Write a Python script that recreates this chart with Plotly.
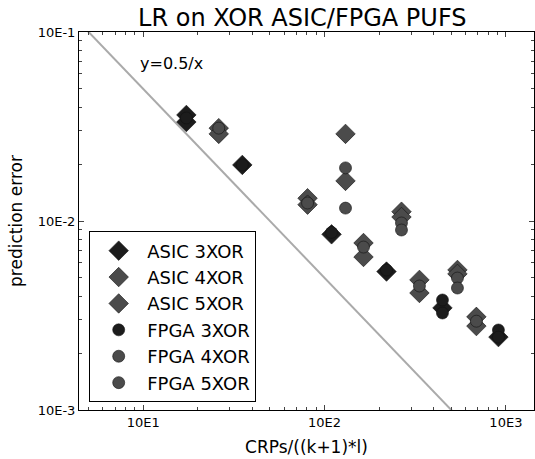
"""LR on XOR ASIC/FPGA PUFs: prediction error vs normalised CRP count."""

import plotly.graph_objects as go

# x = CRPs/((k+1)*l), y = prediction error
asic3_x = [17.3, 17.3, 35.2, 109.3, 219.6, 446.9, 909.5]
asic3_y = [0.0364, 0.0334, 0.0198, 0.0085, 0.0054, 0.00347, 0.00243]

asic4_x = [26.1, 26.1, 130.5, 265.6, 540.6]
asic4_y = [0.0310, 0.0289, 0.0289, 0.0112, 0.00551]

asic5_x = [80.6, 80.6, 130.5, 164.0, 164.0, 265.6, 333.6, 333.6, 540.6, 687.7, 687.7]
asic5_y = [0.0132, 0.0122, 0.0163, 0.00765, 0.00645, 0.0105, 0.00488, 0.00416,
           0.00525, 0.00311, 0.00278]

fpga3_x = [17.3, 35.2, 109.3, 219.6, 446.9, 446.9, 909.5, 909.5]
fpga3_y = [0.0351, 0.0198, 0.0087, 0.0055, 0.00382, 0.00326, 0.00265, 0.00243]

fpga4_x = [26.1, 130.5, 265.6, 540.6]
fpga4_y = [0.0310, 0.0191, 0.00976, 0.00499]

fpga5_x = [80.6, 130.5, 164.0, 265.6, 333.6, 540.6, 687.7]
fpga5_y = [0.01245, 0.0117, 0.00728, 0.00896, 0.00453, 0.00442, 0.00295]

bound_x = [4.0, 2000.0]
bound_y = [0.5 / v for v in bound_x]

x_ticks = [10, 100, 1000]
x_labels = ["10E1", "10E2", "10E3"]
y_ticks = [0.001, 0.01, 0.1]
y_labels = ["10E-3", "10E-2", "10E-1"]

DARK = "#1c1c1c"
GREY = "#4b4b4b"

series = [
    ("ASIC 3XOR", asic3_x, asic3_y, "diamond", DARK),
    ("ASIC 4XOR", asic4_x, asic4_y, "diamond", GREY),
    ("ASIC 5XOR", asic5_x, asic5_y, "diamond", GREY),
    ("FPGA 3XOR", fpga3_x, fpga3_y, "circle", DARK),
    ("FPGA 4XOR", fpga4_x, fpga4_y, "circle", GREY),
    ("FPGA 5XOR", fpga5_x, fpga5_y, "circle", GREY),
]

fig = go.Figure()
fig.add_trace(
    go.Scatter(
        x=bound_x,
        y=bound_y,
        mode="lines",
        line=dict(color="#aaaaaa", width=2),
        showlegend=False,
        hoverinfo="skip",
    )
)
for name, xs, ys, symbol, color in series:
    fig.add_trace(
        go.Scatter(
            x=xs,
            y=ys,
            mode="markers",
            name=name,
            marker=dict(
                symbol=symbol,
                size=15 if symbol == "diamond" else 12,
                color=color,
                line=dict(color="#111111", width=0.6),
            ),
        )
    )

fig.add_annotation(
    x=0.971, y=-1.164, xref="x", yref="y",
    text="y=0.5/x", showarrow=False, xanchor="left",
    font=dict(size=16, color="black"),
)

minor_x = [m * d for d in (1, 10, 100, 1000) for m in range(2, 10)]
minor_y = [m * d for d in (0.001, 0.01) for m in range(2, 10)]

fig.update_layout(
    width=535,
    height=459,
    template="simple_white",
    font=dict(family="DejaVu Sans", color="black"),
    title=dict(
        text="LR on XOR ASIC/FPGA PUFS",
        x=0.565, xanchor="center", y=0.962, yanchor="middle",
        font=dict(size=24),
    ),
    margin=dict(l=79, r=1, t=32, b=49),
    plot_bgcolor="white",
    paper_bgcolor="white",
    legend=dict(
        x=0.0224, y=0.02, xanchor="left", yanchor="bottom",
        bordercolor="black", borderwidth=1,
        font=dict(size=18),
        itemwidth=47,
        tracegroupgap=0,
        bgcolor="white",
    ),
    xaxis=dict(
        type="log",
        range=[0.646, 3.155],
        tickvals=x_ticks,
        ticktext=x_labels,
        ticks="inside",
        ticklen=5,
        showline=True,
        linecolor="black",
        linewidth=1,
        mirror="ticks",
        showgrid=False,
        automargin=False,
        tickfont=dict(size=13),
        minor=dict(ticks="inside", ticklen=3, tickvals=minor_x),
        title=dict(text="CRPs/((k+1)*l)", font=dict(size=17), standoff=12),
    ),
    yaxis=dict(
        type="log",
        range=[-3, -1],
        tickvals=y_ticks,
        ticktext=y_labels,
        ticks="inside",
        ticklen=5,
        showline=True,
        linecolor="black",
        linewidth=1,
        mirror="ticks",
        showgrid=False,
        automargin=False,
        tickfont=dict(size=13),
        minor=dict(ticks="inside", ticklen=3, tickvals=minor_y),
        title=dict(text="prediction error", font=dict(size=17), standoff=10),
    ),
)

fig.write_html(
    "out.html",
    config={"displayModeBar": False},
    post_script="document.body.style.margin = '0';",
)
